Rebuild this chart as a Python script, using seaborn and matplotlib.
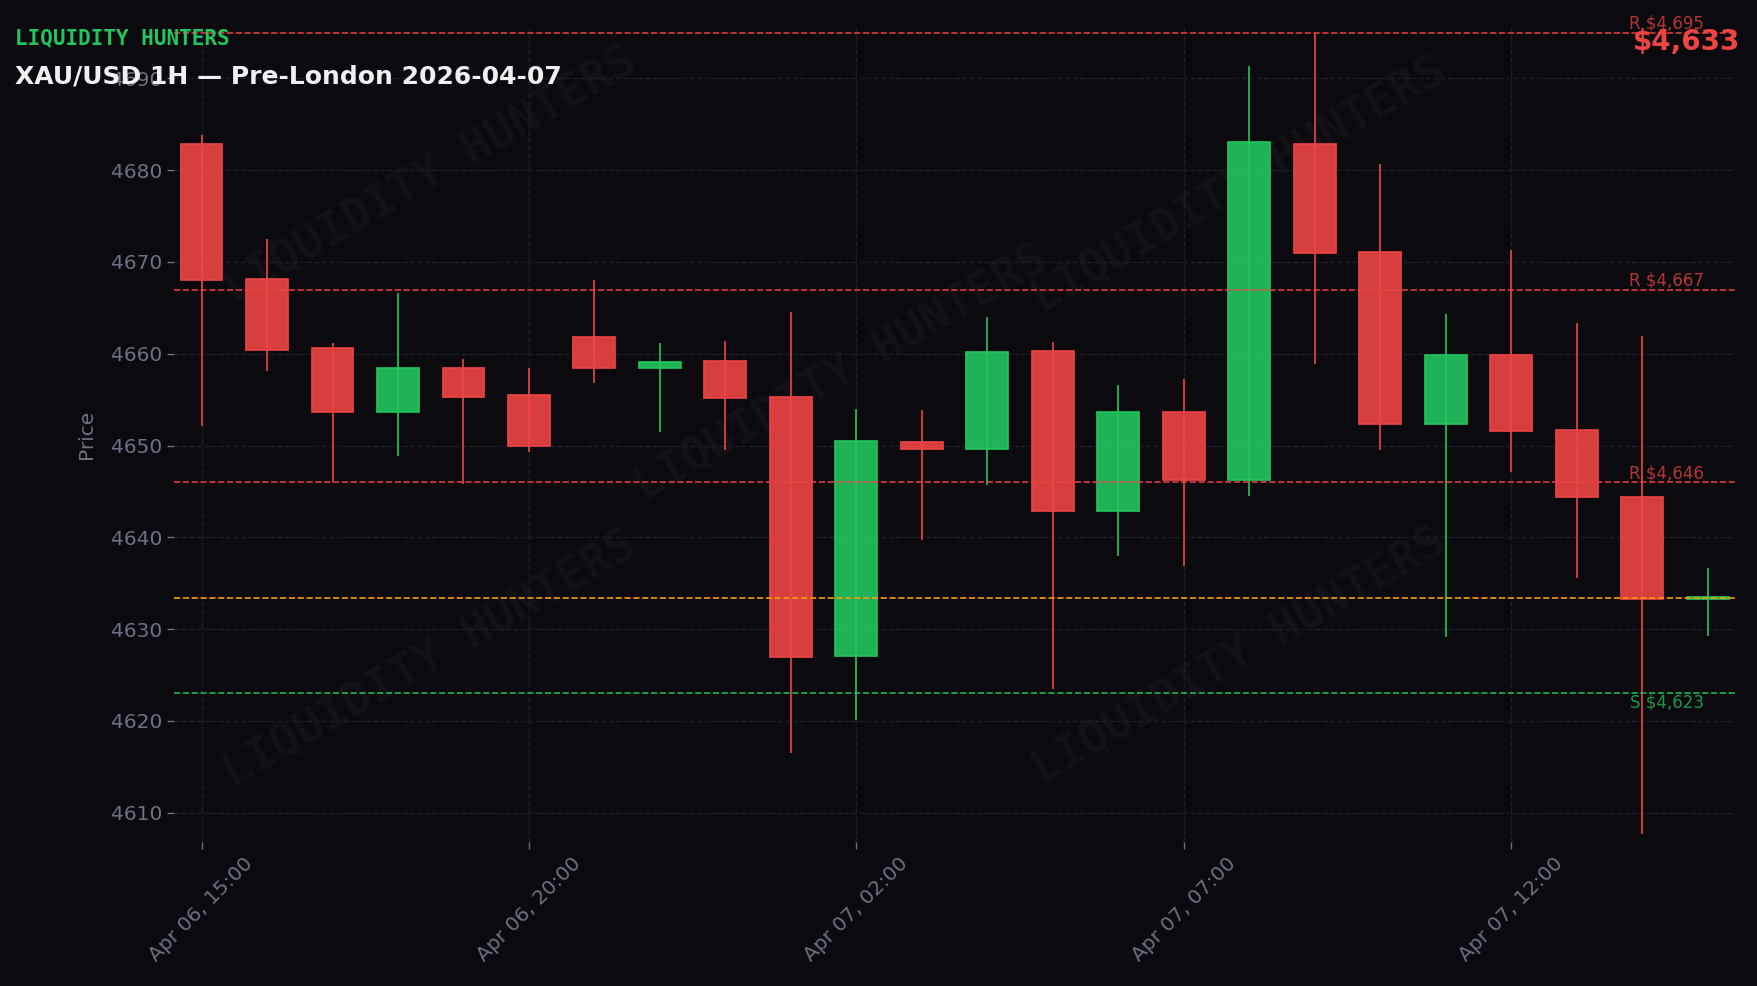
import matplotlib
matplotlib.use("Agg")
import matplotlib.pyplot as plt
import seaborn as sns
import pandas as pd
import numpy as np

# ---------------- data ----------------
times = ["2026-04-06 15:00", "2026-04-06 16:00", "2026-04-06 17:00", "2026-04-06 18:00",
         "2026-04-06 19:00", "2026-04-06 20:00", "2026-04-06 22:00", "2026-04-06 23:00",
         "2026-04-07 00:00", "2026-04-07 01:00", "2026-04-07 02:00", "2026-04-07 03:00",
         "2026-04-07 04:00", "2026-04-07 05:00", "2026-04-07 06:00", "2026-04-07 07:00",
         "2026-04-07 08:00", "2026-04-07 09:00", "2026-04-07 10:00", "2026-04-07 11:00",
         "2026-04-07 12:00", "2026-04-07 13:00", "2026-04-07 14:00", "2026-04-07 15:00"]
opens  = [4682.8, 4668.2, 4660.6, 4653.7, 4658.4, 4655.5, 4661.8, 4658.5,
          4659.2, 4655.3, 4627.1, 4650.4, 4649.6, 4660.3, 4642.9, 4653.7,
          4646.3, 4682.9, 4671.1, 4652.3, 4659.9, 4651.7, 4644.4, 4633.3]
highs  = [4683.8, 4672.5, 4661.2, 4666.6, 4659.4, 4658.5, 4668.0, 4661.2,
          4661.4, 4664.5, 4654.0, 4653.9, 4664.0, 4661.3, 4656.6, 4657.2,
          4691.3, 4694.9, 4680.7, 4664.3, 4671.3, 4663.4, 4661.9, 4636.7]
lows   = [4652.1, 4658.1, 4646.0, 4648.9, 4645.8, 4649.3, 4656.8, 4651.5,
          4649.5, 4616.5, 4620.1, 4639.7, 4645.7, 4623.5, 4638.0, 4636.9,
          4644.5, 4658.9, 4649.5, 4629.1, 4647.1, 4635.6, 4607.7, 4629.3]
closes = [4668.0, 4660.4, 4653.7, 4658.4, 4655.3, 4649.9, 4658.4, 4659.1,
          4655.2, 4627.0, 4650.5, 4649.6, 4660.2, 4642.9, 4653.7, 4646.3,
          4683.1, 4671.0, 4652.3, 4659.9, 4651.6, 4644.4, 4633.3, 4633.45]
resistance_levels = [4695, 4667, 4646]
support_levels = [4623]
current_price = 4633.4
current_label = "$4,633"
tick_positions = [0, 5, 10, 15, 20]
title_text = "XAU/USD 1H — Pre-London 2026-04-07"
brand_text = "LIQUIDITY HUNTERS"

df = pd.DataFrame({"time": pd.to_datetime(times), "open": opens, "high": highs,
                   "low": lows, "close": closes})
df["x"] = np.arange(len(df))
df["up"] = df["close"] >= df["open"]

# ---------------- style ----------------
BG = "#0a0a0f"
RED = "#ef4444"
GREEN = "#22c55e"
ORANGE = "#f59e0b"
GRAY = "#6b7280"
GRID = "#1e1e27"

sns.set_theme(style="darkgrid", rc={
    "figure.facecolor": BG, "axes.facecolor": BG, "savefig.facecolor": BG,
    "grid.color": GRID, "grid.linestyle": "--", "grid.linewidth": 1.0,
    "axes.edgecolor": BG, "text.color": GRAY, "axes.labelcolor": GRAY,
    "xtick.color": GRAY, "ytick.color": GRAY,
})
plt.rcParams["font.family"] = ["DejaVu Sans"]

fig = plt.figure(figsize=(17.58, 9.86), dpi=100)
ax = fig.add_axes([0.099, 0.146, 0.888, 0.8266])

# watermark
wm_pos = [(0.164, 0.818), (0.427, 0.575), (0.682, 0.806), (0.164, 0.224), (0.682, 0.228)]
for (wx, wy) in wm_pos:
    ax.text(wx, wy, brand_text, transform=ax.transAxes, rotation=30,
            ha="center", va="center", fontsize=33, family="DejaVu Sans Mono",
            weight="bold", color="white", alpha=0.035, zorder=0)

colors = [GREEN if u else RED for u in df["up"]]
ax.vlines(df["x"], df["low"], df["high"], colors=colors, linewidth=1.2, zorder=2)
bottoms = np.minimum(df["open"], df["close"])
heights = np.maximum(np.abs(df["close"] - df["open"]), 0.05)
ax.bar(df["x"], heights, bottom=bottoms, width=0.64,
       color=[matplotlib.colors.to_rgba(c, 0.9) for c in colors],
       edgecolor=colors, linewidth=1.2, zorder=3)

ytr = ax.get_yaxis_transform()
for lvl in resistance_levels:
    ax.axhline(lvl, color=RED, linestyle="--", linewidth=1.2, alpha=0.9, zorder=4)
    ax.text(0.98, lvl, f"R ${lvl:,.0f}", transform=ytr, ha="right", va="bottom",
            fontsize=12, color=RED, alpha=0.75, zorder=5)
for lvl in support_levels:
    ax.axhline(lvl, color=GREEN, linestyle="--", linewidth=1.2, alpha=0.9, zorder=4)
    ax.text(0.98, lvl, f"S ${lvl:,.0f}", transform=ytr, ha="right", va="top",
            fontsize=12, color=GREEN, alpha=0.75, zorder=5)
ax.axhline(current_price, color=ORANGE, linestyle="--", linewidth=1.2, zorder=4)

ax.set_xlim(-0.42, 23.42)
ax.set_ylim(4606.8, 4695.6)
ax.set_yticks(np.arange(4610, 4691, 10))
ax.set_xticks(tick_positions)
ax.set_xticklabels([df["time"][i].strftime("%b %d, %H:%M") for i in tick_positions],
                   rotation=45, ha="center")
ax.tick_params(axis="both", colors=GRAY, labelsize=14.5, length=5, width=1,
               bottom=True, left=True)
ax.set_ylabel("Price", fontsize=14.5, color=GRAY, labelpad=11)
ax.set_xlabel("")
for s in ax.spines.values():
    s.set_visible(False)
ax.grid(True, color=GRID, linestyle="--", linewidth=1.0)

fig.text(0.0085, 0.955, brand_text, color=GREEN, family="DejaVu Sans Mono",
         weight="bold", fontsize=15)
fig.text(0.0085, 0.915, title_text, color="#f0f0f2", weight="bold", fontsize=18)
fig.text(0.990, 0.949, current_label, color=RED, weight="bold", fontsize=20, ha="right")

fig.savefig("out.png", dpi=100, facecolor=BG)
